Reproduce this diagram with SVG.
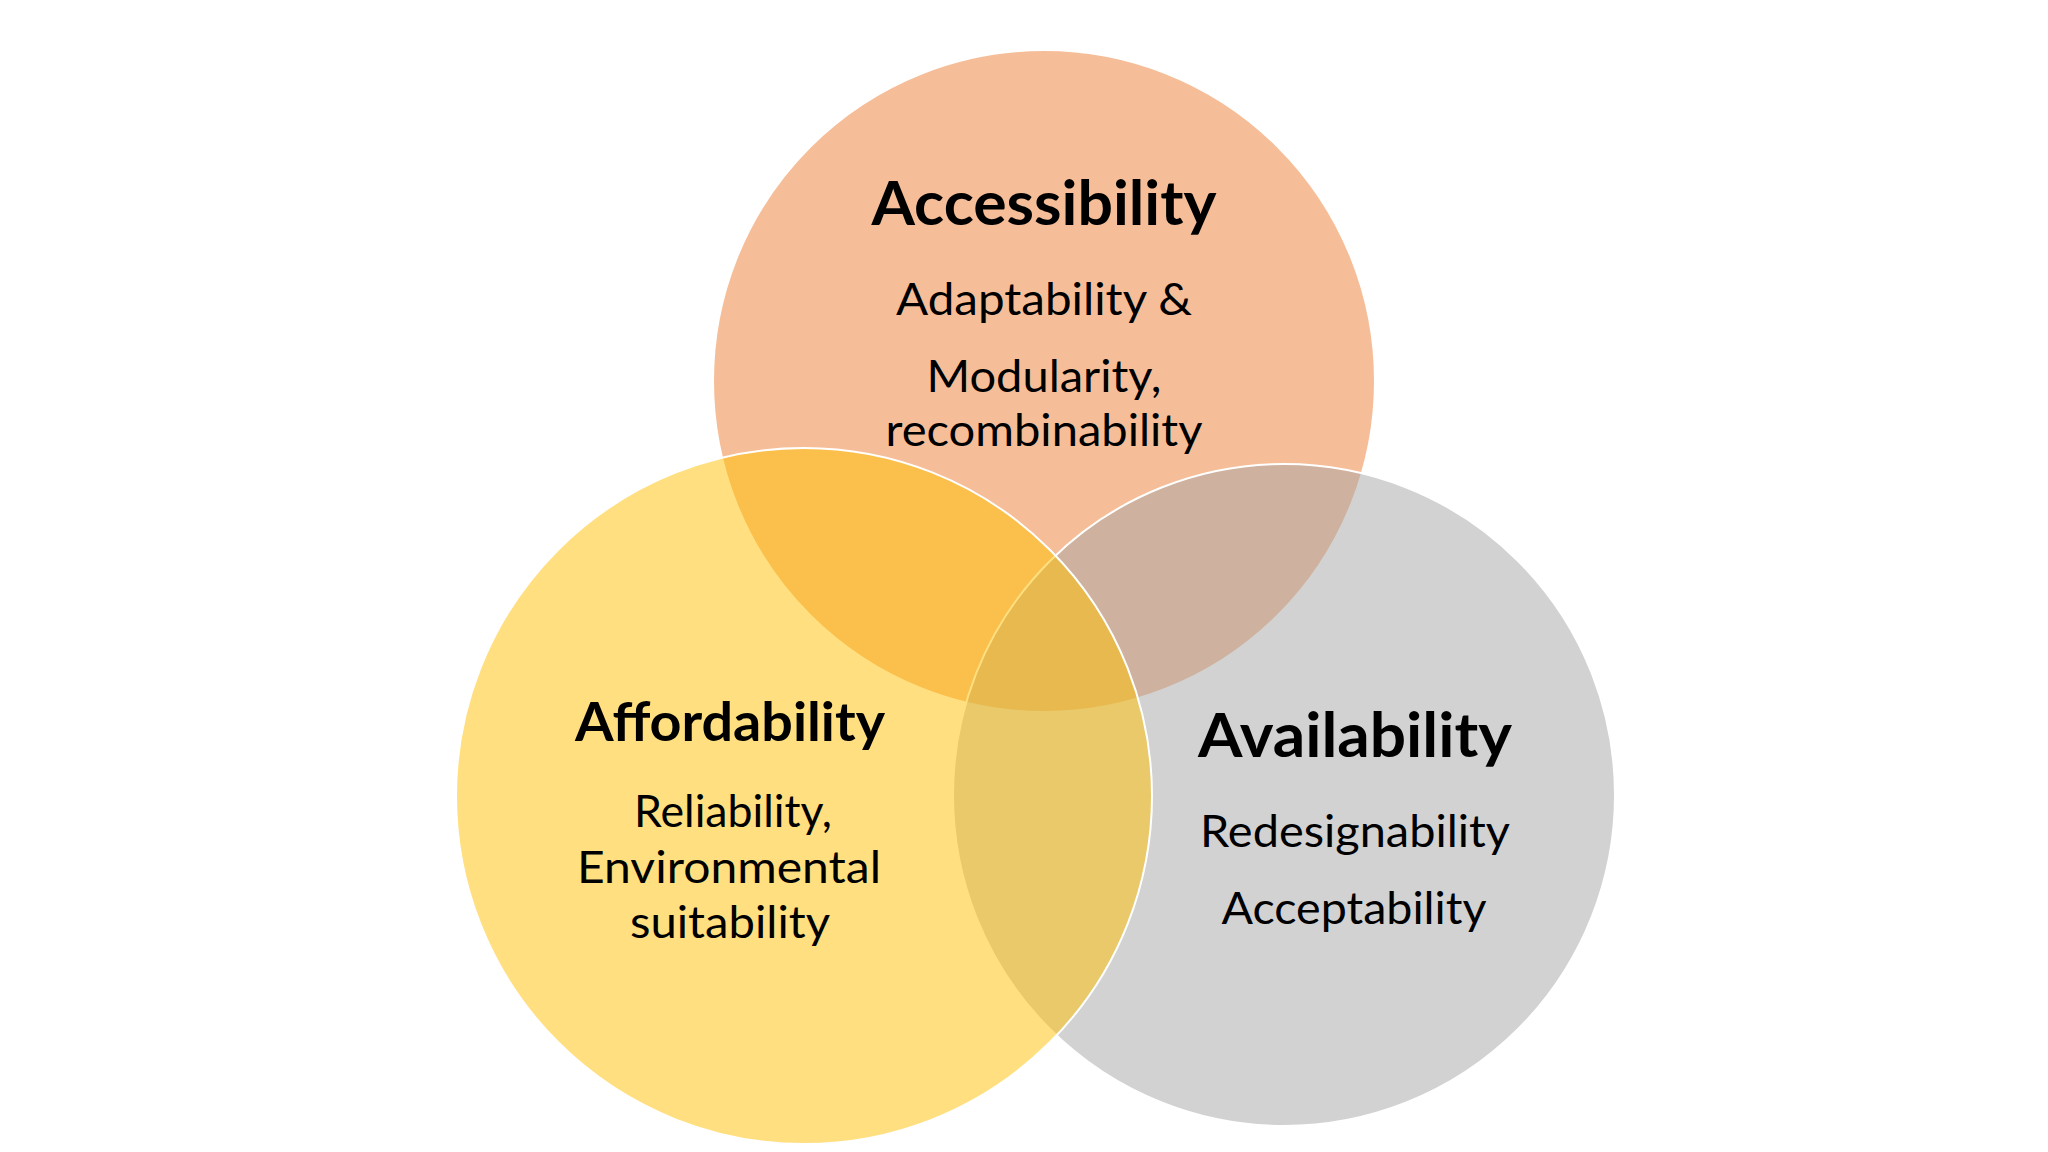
<svg xmlns="http://www.w3.org/2000/svg" width="2048" height="1152" viewBox="0 0 2048 1152">
<style>
.c{stroke:#FFFFFF;stroke-width:2;fill-opacity:0.5}
.h{font-family:Lato,"Open Sans","Liberation Sans",sans-serif;font-weight:bold;fill:#000000;text-anchor:middle}
.t{font-family:Lato,"Open Sans","Liberation Sans",sans-serif;font-weight:normal;font-size:45px;fill:#000000;text-anchor:middle}
</style>
<rect x="0" y="0" width="2048" height="1152" fill="#FFFFFF"/>
<g id="accessibility">
<circle class="c" cx="1044" cy="381" r="331" fill="#ED7D31"/>
</g>
<g id="availability">
<circle class="c" cx="1284" cy="795" r="331" fill="#A5A5A5"/>
</g>
<g id="affordability">
<circle class="c" cx="804" cy="796" r="348" fill="#FFC000"/>
</g>
<g id="accessibility-text">
<text class="h" x="1044" y="225" font-size="61" textLength="345" lengthAdjust="spacingAndGlyphs">Accessibility</text>
<text class="t" x="1044" y="315" textLength="296" lengthAdjust="spacingAndGlyphs">Adaptability &amp;</text>
<text class="t" x="1044" y="392" textLength="235" lengthAdjust="spacingAndGlyphs">Modularity,</text>
<text class="t" x="1044" y="446" textLength="317" lengthAdjust="spacingAndGlyphs">recombinability</text>
</g>
<g id="affordability-text">
<text class="h" x="730" y="741" font-size="53" textLength="310" lengthAdjust="spacingAndGlyphs">Affordability</text>
<text class="t" x="733" y="827" textLength="198" lengthAdjust="spacingAndGlyphs">Reliability,</text>
<text class="t" x="729" y="883" textLength="304" lengthAdjust="spacingAndGlyphs">Environmental</text>
<text class="t" x="730" y="938" textLength="200" lengthAdjust="spacingAndGlyphs">suitability</text>
</g>
<g id="availability-text">
<text class="h" x="1355" y="757" font-size="61" textLength="314" lengthAdjust="spacingAndGlyphs">Availability</text>
<text class="t" x="1355" y="847" textLength="310" lengthAdjust="spacingAndGlyphs">Redesignability</text>
<text class="t" x="1354" y="924" textLength="265" lengthAdjust="spacingAndGlyphs">Acceptability</text>
</g>
<g id="connectors"></g>
</svg>
